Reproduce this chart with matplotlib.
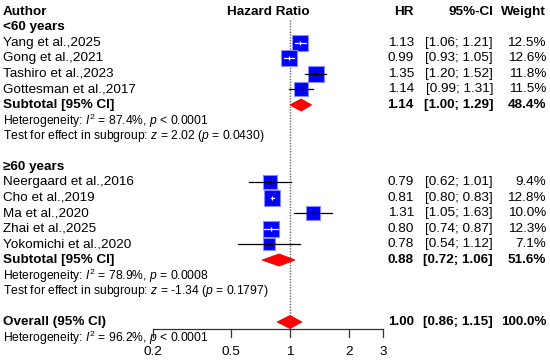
import numpy as np
import matplotlib
matplotlib.use('Agg')
import matplotlib.pyplot as plt
from matplotlib.patches import Polygon
from matplotlib import transforms

plt.rcParams['font.family'] = 'Liberation Sans'
plt.rcParams['mathtext.fontset'] = 'custom'
plt.rcParams['mathtext.rm'] = 'Liberation Sans'
plt.rcParams['mathtext.it'] = 'Liberation Sans:italic'
plt.rcParams['mathtext.bf'] = 'Liberation Sans:bold'

# data
young_names = ['Yang et al.,2025', 'Gong et al.,2021', 'Tashiro et al.,2023', 'Gottesman et al.,2017']
young_hr = [1.13, 0.99, 1.35, 1.14]
young_lo = [1.06, 0.93, 1.20, 0.99]
young_hi = [1.21, 1.05, 1.52, 1.31]
young_w = [12.5, 12.6, 11.8, 11.5]

old_names = ['Neergaard et al.,2016', 'Cho et al.,2019', 'Ma et al.,2020', 'Zhai et al.,2025', 'Yokomichi et al.,2020']
old_hr = [0.79, 0.81, 1.31, 0.80, 0.78]
old_lo = [0.62, 0.80, 1.05, 0.74, 0.54]
old_hi = [1.01, 0.83, 1.63, 0.87, 1.12]
old_w = [9.4, 12.8, 10.0, 12.3, 7.1]

# subtotal / overall: hr, lo, hi, weight
young_sub = [1.14, 1.00, 1.29, 48.4]
old_sub = [0.88, 0.72, 1.06, 51.6]
overall = [1.00, 0.86, 1.15, 100.0]

young_het = r'Heterogeneity: $I^2$ = 87.4%, $p$ < 0.0001'
young_test = r'Test for effect in subgroup: $z$ = 2.02 ($p$ = 0.0430)'
old_het = r'Heterogeneity: $I^2$ = 78.9%, $p$ = 0.0008'
old_test = r'Test for effect in subgroup: $z$ = -1.34 ($p$ = 0.1797)'
overall_het = r'Heterogeneity: $I^2$ = 96.2%, $p$ < 0.0001'

xticks = [0.2, 0.5, 1, 2, 3]

# figure: one axes over the whole canvas, rows in data units, log x
W, H = 550, 364
row0, row_h = 12, 15.5       # pixel centre of row 0 and row spacing
px_per_ln = 85.0
x_one = 290.0

fig = plt.figure(figsize=(W / 100, H / 100), dpi=100)
ax = fig.add_axes([0, 0, 1, 1])
ax.set_xscale('log')
ax.set_xlim(np.exp(-x_one / px_per_ln), np.exp((W - x_one) / px_per_ln))
ax.set_ylim((H - row0) / row_h, -row0 / row_h)
ax.axis('off')

tr = transforms.blended_transform_factory(fig.transFigure, ax.transData)
x_author = 3 / W
x_hr = 414 / W
x_ci = 493 / W
x_w = 546 / W

fs = 9.7
fs_small = 8.7

# headers
ax.text(x_author, 0, 'Author', transform=tr, fontsize=fs, fontweight='bold', va='center', ha='left')
ax.text(np.sqrt(xticks[0] * xticks[-1]), 0, 'Hazard Ratio', fontsize=fs, fontweight='bold', va='center', ha='center')
ax.text(x_hr, 0, 'HR', transform=tr, fontsize=fs, fontweight='bold', va='center', ha='right')
ax.text(x_ci, 0, '95%-CI', transform=tr, fontsize=fs, fontweight='bold', va='center', ha='right')
ax.text(x_w, 0, 'Weight', transform=tr, fontsize=fs, fontweight='bold', va='center', ha='right')


def stats_text(y, hr, lo, hi, w, bold=False):
    fw = 'bold' if bold else 'normal'
    ax.text(x_hr, y, f'{hr:.2f}', transform=tr, fontsize=fs, fontweight=fw, va='center', ha='right')
    ax.text(x_ci, y, f'[{lo:.2f}; {hi:.2f}]', transform=tr, fontsize=fs, fontweight=fw, va='center', ha='right')
    ax.text(x_w, y, f'{w:.1f}%', transform=tr, fontsize=fs, fontweight=fw, va='center', ha='right')


def diamond(y, hr, lo, hi, half=0.39):
    ax.add_patch(Polygon([(lo, y), (hr, y - half), (hi, y), (hr, y + half)],
                         closed=True, facecolor='#ff0000', edgecolor='#ee0000', lw=0.6, zorder=4))


def study_rows(start, names, hr, lo, hi, w):
    for i in range(len(names)):
        y = start + i
        ax.text(x_author, y, names[i], transform=tr, fontsize=fs, va='center', ha='left')
        stats_text(y, hr[i], lo[i], hi[i], w[i])
        side_px = 4.4 * np.sqrt(w[i])
        ax.scatter([hr[i]], [y], marker='s', s=(side_px * 0.72) ** 2,
                   facecolor='#0000ff', edgecolor='#8c8cff', linewidth=0.8, zorder=3)
        # CI line is white when it fits inside the square
        px_c = ax.transData.transform((hr[i], y))[0]
        px_l = ax.transData.transform((lo[i], y))[0]
        px_h = ax.transData.transform((hi[i], y))[0]
        inside = (px_c - px_l) < side_px / 2 and (px_h - px_c) < side_px / 2
        col = 'white' if inside else 'black'
        ax.plot([lo[i], hi[i]], [y, y], color=col, lw=0.9, zorder=5)
        ax.plot([hr[i]], [y], marker='|', markersize=3.5, color=col, mew=0.9, zorder=5)


# group < 60
ax.text(x_author, 1, '<60 years', transform=tr, fontsize=fs, fontweight='bold', va='center', ha='left')
study_rows(2, young_names, young_hr, young_lo, young_hi, young_w)
ax.text(x_author, 6, 'Subtotal [95% CI]', transform=tr, fontsize=fs, fontweight='bold', va='center', ha='left')
stats_text(6, *young_sub, bold=True)
diamond(6, *young_sub[:3])
ax.text(x_author, 7, young_het, transform=tr, fontsize=fs_small, va='center', ha='left')
ax.text(x_author, 8, young_test, transform=tr, fontsize=fs_small, va='center', ha='left')

# group >= 60
ax.text(x_author, 10, '≥60 years', transform=tr, fontsize=fs, fontweight='bold', va='center', ha='left')
study_rows(11, old_names, old_hr, old_lo, old_hi, old_w)
ax.text(x_author, 16, 'Subtotal [95% CI]', transform=tr, fontsize=fs, fontweight='bold', va='center', ha='left')
stats_text(16, *old_sub, bold=True)
diamond(16, *old_sub[:3])
ax.text(x_author, 17, old_het, transform=tr, fontsize=fs_small, va='center', ha='left')
ax.text(x_author, 18, old_test, transform=tr, fontsize=fs_small, va='center', ha='left')

# overall
ax.text(x_author, 20, 'Overall (95% CI)', transform=tr, fontsize=fs, fontweight='bold', va='center', ha='left')
stats_text(20, *overall, bold=True)
diamond(20, *overall[:3], half=0.42)
ax.text(x_author, 21, overall_het, transform=tr, fontsize=fs_small, va='center', ha='left')

# x axis drawn at the bottom of the plot
axis_y = (329 - row0) / row_h
tick_y = (337 - row0) / row_h
label_y = (352 - row0) / row_h
ax.plot([xticks[0], xticks[-1]], [axis_y, axis_y], color='#333333', lw=0.9, zorder=2)
for t in xticks:
    ax.plot([t, t], [axis_y, tick_y], color='#333333', lw=0.9, zorder=2)
    ax.text(t, label_y, f'{t:g}', fontsize=fs, va='center', ha='center')

# reference line at HR = 1
ax.plot([1, 1], [0.5, axis_y], color='#666666', lw=1.0, linestyle=(0, (1, 1)), zorder=1)

fig.savefig('out.png', dpi=100, facecolor='white')
